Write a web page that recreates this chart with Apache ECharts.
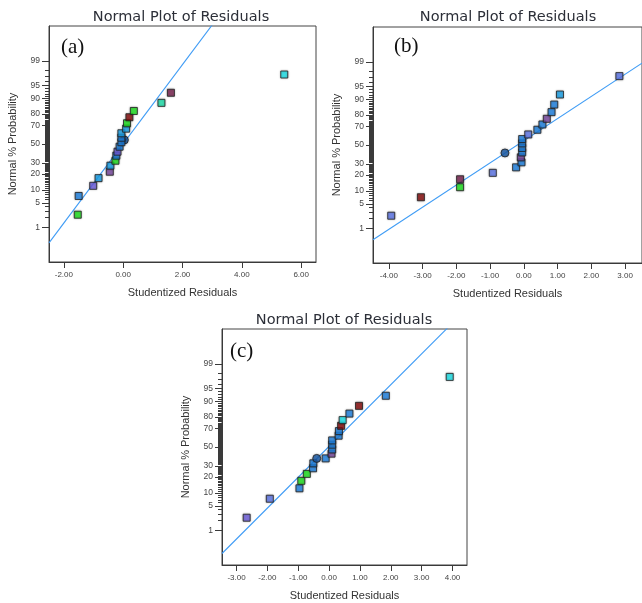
<!DOCTYPE html>
<html>
<head>
<meta charset="utf-8">
<title>Normal Plot of Residuals</title>
<script src="https://cdn.jsdelivr.net/npm/echarts@6/dist/echarts.min.js"></script>
<style>
  html, body { margin: 0; padding: 0; background: #fff; }
  #chart { width: 642px; height: 603px; }
</style>
</head>
<body>
<div id="chart"></div>
<script>
// panel (a)
var residA = [-1.53, -1.50, -1.01, -0.83, -0.45, -0.43, -0.26, -0.23, -0.19, -0.12, 0.04, -0.06, -0.06, -0.06, 0.10, 0.13, 0.21, 0.36, 1.29, 1.61, 5.43];
var probA  = [2.4, 7.3, 12.1, 17.0, 21.9, 27.2, 32.0, 37.2, 41.5, 47.0, 54.5, 52.0, 57.0, 61.8, 66.6, 71.9, 77.3, 82.2, 87.5, 92.4, 97.4];
var groupA = ['green', 'blue', 'violet', 'sky', 'plum', 'sky', 'green', 'blue', 'violet', 'blue', 'navy', 'blue', 'blue', 'sky', 'sky', 'green', 'red', 'green', 'teal', 'maroon', 'cyan'];
var fitA = [1.108, 0.006];   // slope, intercept (normal score vs residual)
var xTicksA = [-2, 0, 2, 4, 6];

// panel (b)
var residB = [-3.93, -3.05, -1.89, -1.89, -0.92, -0.23, -0.07, -0.09, -0.56, -0.05, -0.05, -0.05, -0.05, 0.13, 0.40, 0.55, 0.68, 0.82, 0.90, 1.07, 2.83];
var probB  = [2.4, 7.2, 11.9, 16.9, 21.8, 26.6, 31.4, 36.5, 41.2, 41.8, 46.7, 51.8, 56.6, 61.6, 66.5, 71.7, 76.8, 82.1, 87.1, 92.1, 97.3];
var groupB = ['peri', 'red', 'green', 'maroon', 'peri', 'blue', 'blue', 'plum', 'navy', 'blue', 'blue', 'blue', 'blue', 'peri', 'blue', 'blue', 'plum', 'blue', 'blue', 'sky', 'peri'];
var fitB = [0.62, 0.12];
var xTicksB = [-4, -3, -2, -1, 0, 1, 2, 3];

// panel (c)
var residC = [-2.67, -1.92, -0.96, -0.90, -0.72, -0.52, -0.51, -0.40, -0.11, 0.08, 0.10, 0.10, 0.10, 0.31, 0.32, 0.39, 0.44, 0.66, 0.97, 1.84, 3.91];
var probC  = [2.4, 7.4, 12.4, 17.2, 22.6, 27.6, 32.4, 37.5, 37.5, 42.6, 47.3, 52.6, 57.3, 62.4, 67.2, 72.3, 77.4, 82.5, 87.5, 92.4, 97.5];
var groupC = ['violet', 'peri', 'blue', 'green', 'green', 'blue', 'blue', 'navy', 'blue', 'plum', 'blue', 'blue', 'blue', 'blue', 'blue', 'red', 'cyan', 'blue', 'red', 'blue', 'cyan'];
var fitC = [0.863, 0.016];
var xTicksC = [-3, -2, -1, 0, 1, 2, 3, 4];

var probLabels = [1, 5, 10, 20, 30, 50, 70, 80, 90, 95, 99];

var palette = {
  blue: '#1f84e6', sky: '#1aa4ec', navy: '#1a5cab', violet: '#6f5fe0', peri: '#5f78ec',
  plum: '#7a4aa2', green: '#1ee41e', teal: '#1ee4ae', cyan: '#1ee6ee', red: '#8a0c0c', maroon: '#7b2350'
};

// inverse normal cdf (Acklam) for the probability axis
function probit(p) {
  var a = [-3.969683028665376e+01, 2.209460984245205e+02, -2.759285104469687e+02, 1.383577518672690e+02, -3.066479806614716e+01, 2.506628277459239e+00];
  var b = [-5.447609879822406e+01, 1.615858368580409e+02, -1.556989798598866e+02, 6.680131188771972e+01, -1.328068155288572e+01];
  var c = [-7.784894002430293e-03, -3.223964580411365e-01, -2.400758277161838e+00, -2.549732539343734e+00, 4.374664141464968e+00, 2.938163982698783e+00];
  var d = [7.784695709041462e-03, 3.224671290700398e-01, 2.445134137142996e+00, 3.754408661907416e+00];
  var q, r;
  if (p < 0.02425) {
    q = Math.sqrt(-2 * Math.log(p));
    return (((((c[0]*q+c[1])*q+c[2])*q+c[3])*q+c[4])*q+c[5]) / ((((d[0]*q+d[1])*q+d[2])*q+d[3])*q+1);
  }
  if (p > 1 - 0.02425) {
    q = Math.sqrt(-2 * Math.log(1 - p));
    return -(((((c[0]*q+c[1])*q+c[2])*q+c[3])*q+c[4])*q+c[5]) / ((((d[0]*q+d[1])*q+d[2])*q+d[3])*q+1);
  }
  q = p - 0.5; r = q * q;
  return (((((a[0]*r+a[1])*r+a[2])*r+a[3])*r+a[4])*r+a[5])*q / (((((b[0]*r+b[1])*r+b[2])*r+b[3])*r+b[4])*r+1);
}

var majorZ = probLabels.map(function (p) { return probit(p / 100); });
var minorZ = [];
for (var i = 1; i < 100; i++) minorZ.push(probit(i / 100));

var panels = [
  { grid: { left: 49, top: 26, width: 267, height: 236 }, xMin: -2.5, xMax: 6.5, ticks: xTicksA, resid: residA, prob: probA, group: groupA, fit: fitA },
  { grid: { left: 373, top: 27, width: 272, height: 236 }, xMin: -4.47, xMax: 3.5, ticks: xTicksB, resid: residB, prob: probB, group: groupB, fit: fitB },
  { grid: { left: 222, top: 329, width: 245, height: 236 }, xMin: -3.47, xMax: 4.47, ticks: xTicksC, resid: residC, prob: probC, group: groupC, fit: fitC }
];

var sans = 'Liberation Sans, Arial, sans-serif';
var axisColor = '#3a3a3a';
var grids = [], xAxes = [], yAxes = [], series = [];

panels.forEach(function (pn, k) {
  grids.push({ left: pn.grid.left, top: pn.grid.top, width: pn.grid.width, height: pn.grid.height,
    show: true, borderColor: '#444', borderWidth: 1, backgroundColor: '#fff' });

  xAxes.push({
    gridIndex: k, type: 'value', min: pn.xMin, max: pn.xMax, position: 'bottom',
    name: 'Studentized Residuals', nameLocation: 'middle', nameGap: 25,
    nameTextStyle: { fontFamily: sans, fontSize: 11, color: '#333' },
    axisLine: { show: true, onZero: false, lineStyle: { color: axisColor } },
    axisTick: { show: true, length: 6, customValues: pn.ticks, lineStyle: { color: axisColor } },
    axisLabel: { customValues: pn.ticks, fontFamily: sans, fontSize: 8, color: '#444', margin: 9,
      formatter: function (v) { return v.toFixed(2); } },
    splitLine: { show: false }
  });

  yAxes.push({
    gridIndex: k, type: 'value', min: -3.3, max: 3.3, position: 'left',
    name: 'Normal % Probability', nameLocation: 'middle', nameGap: 31,
    nameTextStyle: { fontFamily: sans, fontSize: 11, color: '#333' },
    axisLine: { show: true, onZero: false, lineStyle: { color: axisColor } },
    axisTick: { show: true, length: 7, customValues: majorZ, lineStyle: { color: axisColor } },
    axisLabel: { customValues: majorZ, fontFamily: sans, fontSize: 8.5, color: '#444', margin: 9,
      formatter: function (v) {
        for (var j = 0; j < majorZ.length; j++) {
          if (Math.abs(majorZ[j] - v) < 1e-6) return String(probLabels[j]);
        }
        return '';
      } },
    splitLine: { show: false }
  });
  yAxes.push({
    gridIndex: k, type: 'value', min: -3.3, max: 3.3, position: 'left',
    axisLine: { show: false, onZero: false },
    axisTick: { show: true, length: 4, customValues: minorZ, lineStyle: { color: axisColor } },
    axisLabel: { show: false },
    splitLine: { show: false }
  });

  series.push({
    type: 'line', xAxisIndex: k, yAxisIndex: 2 * k, silent: true, clip: true,
    symbol: 'none', z: 2,
    lineStyle: { color: '#3f9cf5', width: 1.1 },
    data: [[pn.xMin, pn.fit[0] * pn.xMin + pn.fit[1]], [pn.xMax, pn.fit[0] * pn.xMax + pn.fit[1]]]
  });

  series.push({
    type: 'scatter', xAxisIndex: k, yAxisIndex: 2 * k, z: 3,
    itemStyle: { borderColor: '#222', borderWidth: 1, shadowBlur: 2, shadowColor: 'rgba(0,0,0,0.35)' },
    data: pn.resid.map(function (x, j) {
      var g = pn.group[j];
      return {
        value: [x, probit(pn.prob[j] / 100)],
        symbol: g === 'navy' ? 'circle' : 'rect',
        symbolSize: g === 'navy' ? 8 : 7,
        itemStyle: { color: palette[g] }
      };
    })
  });
});

function titleText(x, y) {
  return { type: 'text', x: x, y: y, z: 10,
    style: { text: 'Normal Plot of Residuals', fontFamily: 'DejaVu Sans, sans-serif', fontSize: 14.5,
      fill: '#2c2f38', align: 'center', verticalAlign: 'middle' } };
}
function panelTag(t, x, y) {
  return { type: 'text', x: x, y: y, z: 10,
    style: { text: t, fontFamily: 'Liberation Serif, Times New Roman, serif', fontSize: 21,
      fill: '#111', align: 'left', verticalAlign: 'middle' } };
}

var chart = echarts.init(document.getElementById('chart'), null, { renderer: 'canvas' });
chart.setOption({
  backgroundColor: '#ffffff',
  animation: false,
  grid: grids,
  xAxis: xAxes,
  yAxis: yAxes,
  series: series,
  graphic: [
    titleText(181, 17), titleText(508, 17), titleText(344, 320),
    panelTag('(a)', 61, 47), panelTag('(b)', 394, 46), panelTag('(c)', 230, 351)
  ]
});
</script>
</body>
</html>
